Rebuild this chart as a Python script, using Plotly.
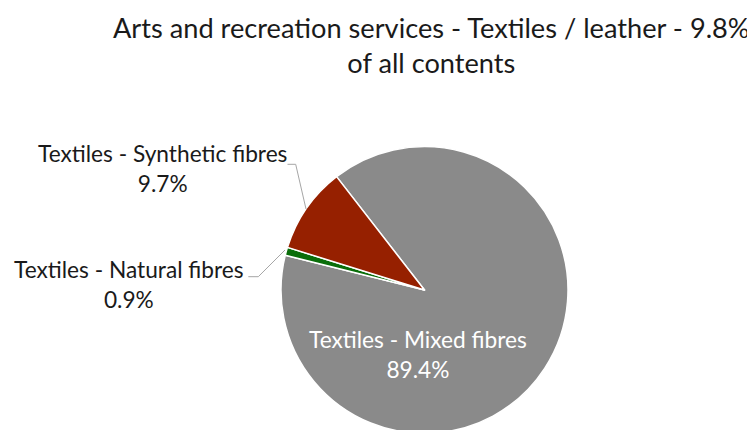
import plotly.graph_objects as go

title_lines = ["Arts and recreation services - Textiles / leather - 9.8%", "of all contents"]
categories = ["Textiles - Mixed fibres", "Textiles - Natural fibres", "Textiles - Synthetic fibres"]
values = [89.4, 0.9, 9.7]
colors = ["#8a8a8a", "#0a6e0a", "#962000"]

W, H = 755, 430
OFF = 8  # page body margin; positions below are given in page pixels
cx, cy, r = 424.5 - OFF, 290 - OFF, 143.5  # pie centre / radius in figure px

fig = go.Figure(go.Pie(
    labels=categories,
    values=values,
    sort=False,
    direction="clockwise",
    rotation=-37.8,
    marker=dict(colors=colors, line=dict(color="white", width=1.5)),
    textinfo="none",
    hoverinfo="label+percent",
    showlegend=False,
    domain=dict(x=[(cx - r) / W, (cx + r) / W],
                y=[max(0.0, (H - cy - r) / H), min(1.0, (H - cy + r) / H)]),
))

FONT = "Lato"
lab_size = 22.7

def px(x, y):
    return (x - OFF) / W, 1 - (y - OFF) / H

def lab(i, x, y, color):
    ax, ay = px(x, y)
    return dict(
        text=f"{categories[i]}<br>{values[i]:.1f}%",
        x=ax, y=ay, xref="paper", yref="paper",
        xanchor="center", yanchor="middle", showarrow=False,
        font=dict(family=FONT, size=lab_size, color=color), align="center",
    )

tx, ty = px(431, 45)
annotations = [
    lab(0, 418, 354.5, "white"),
    lab(2, 162, 168, "#1a1a1a"),
    lab(1, 129, 284, "#1a1a1a"),
    dict(text="<br>".join(title_lines), x=tx, y=ty, xref="paper", yref="paper",
         xanchor="center", yanchor="middle", showarrow=False, align="center",
         font=dict(family=FONT, size=27.2, color="#1a1a1a")),
]

def line_shape(pts):
    path = "M " + " L ".join("{},{}".format(*px(x, y)) for x, y in pts)
    return dict(type="path", path=path, xref="paper", yref="paper",
                line=dict(color="#a6a6a6", width=1))

shapes = [
    line_shape([(287.5, 164.3), (295.7, 164.3), (306, 209)]),
    line_shape([(248.3, 276.7), (258.3, 276.7), (285, 250)]),
]

fig.update_layout(
    width=W, height=H,
    margin=dict(l=0, r=0, t=0, b=0),
    paper_bgcolor="white", plot_bgcolor="white",
    annotations=annotations, shapes=shapes,
)

fig.write_html("out.html")
